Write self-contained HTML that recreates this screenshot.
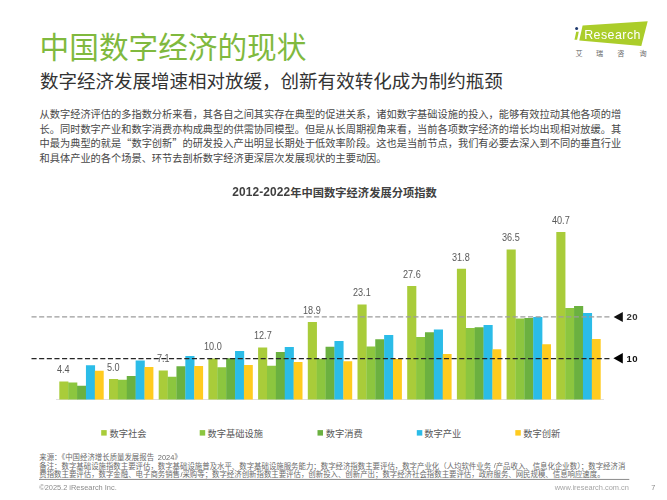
<!DOCTYPE html>
<html lang="zh-CN">
<head>
<meta charset="utf-8">
<title>中国数字经济的现状</title>
<style>
html,body{margin:0;padding:0;background:#fff}
body{width:667px;height:500px;overflow:hidden;position:relative;font-family:"Liberation Sans",sans-serif}
#slide{position:absolute;left:0;top:0;width:667px;height:500px;overflow:hidden;background:#fff}
#txt{position:absolute;left:0;top:0;width:667px;height:500px;will-change:transform}
#slide svg{position:absolute;left:0;top:0}
#slide svg text{font-family:"Liberation Sans","Noto Sans CJK SC",sans-serif}
.t{position:absolute;white-space:nowrap;line-height:1;font-family:"Liberation Sans",sans-serif}
.logo{position:absolute;white-space:nowrap;line-height:1;font-family:"Liberation Sans",sans-serif;color:#fff}
</style>
</head>
<body>
<div id="slide">
<svg width="667" height="500" viewBox="0 0 667 500">
<!-- axis -->
<rect x="56" y="399.2" width="548" height="0.8" fill="#d9d9d9"/>
<!-- bars -->
<path fill="#a9cc3a" d="M59.30 399.50h9.13v-18.00h-9.13zM109.00 399.50h9.13v-20.40h-9.13zM158.70 399.50h9.13v-29.00h-9.13zM208.40 399.50h9.13v-41.00h-9.13zM258.10 399.50h9.13v-52.00h-9.13zM307.80 399.50h9.13v-77.50h-9.13zM357.50 399.50h9.13v-95.00h-9.13zM407.20 399.50h9.13v-113.50h-9.13zM456.90 399.50h9.13v-130.70h-9.13zM506.60 399.50h9.13v-150.00h-9.13zM556.30 399.50h9.13v-167.50h-9.13z"/>
<path fill="#8cc63f" d="M68.18 399.50h9.13v-16.90h-9.13zM117.88 399.50h9.13v-19.80h-9.13zM167.58 399.50h9.13v-22.80h-9.13zM217.28 399.50h9.13v-32.20h-9.13zM266.98 399.50h9.13v-33.80h-9.13zM316.68 399.50h9.13v-40.80h-9.13zM366.38 399.50h9.13v-53.00h-9.13zM416.08 399.50h9.13v-62.40h-9.13zM465.78 399.50h9.13v-71.50h-9.13zM515.48 399.50h9.13v-81.10h-9.13zM565.18 399.50h9.13v-91.60h-9.13z"/>
<path fill="#6bb140" d="M77.06 399.50h9.13v-13.70h-9.13zM126.76 399.50h9.13v-23.60h-9.13zM176.46 399.50h9.13v-33.30h-9.13zM226.16 399.50h9.13v-41.20h-9.13zM275.86 399.50h9.13v-47.40h-9.13zM325.56 399.50h9.13v-52.80h-9.13zM375.26 399.50h9.13v-60.20h-9.13zM424.96 399.50h9.13v-67.20h-9.13zM474.66 399.50h9.13v-72.20h-9.13zM524.36 399.50h9.13v-81.60h-9.13zM574.06 399.50h9.13v-93.60h-9.13z"/>
<path fill="#2bbce8" d="M85.94 399.50h9.13v-34.20h-9.13zM135.64 399.50h9.13v-39.00h-9.13zM185.34 399.50h9.13v-43.50h-9.13zM235.04 399.50h9.13v-48.40h-9.13zM284.74 399.50h9.13v-52.40h-9.13zM334.44 399.50h9.13v-58.40h-9.13zM384.14 399.50h9.13v-64.60h-9.13zM433.84 399.50h9.13v-70.00h-9.13zM483.54 399.50h9.13v-74.40h-9.13zM533.24 399.50h9.13v-82.60h-9.13zM582.94 399.50h9.13v-86.40h-9.13z"/>
<path fill="#ffcb1f" d="M94.82 399.50h8.88v-28.80h-8.88zM144.52 399.50h8.88v-32.40h-8.88zM194.22 399.50h8.88v-33.60h-8.88zM243.92 399.50h8.88v-34.40h-8.88zM293.62 399.50h8.88v-37.40h-8.88zM343.32 399.50h8.88v-38.20h-8.88zM393.02 399.50h8.88v-40.60h-8.88zM442.72 399.50h8.88v-45.40h-8.88zM492.42 399.50h8.88v-50.20h-8.88zM542.12 399.50h8.88v-55.20h-8.88zM591.82 399.50h8.88v-60.40h-8.88z"/>
<!-- reference lines -->
<path d="M31.5 316.9H612" stroke="#9c9c9c" stroke-width="1.25" stroke-dasharray="5.1 2.538" fill="none"/>
<path d="M31.5 358.5H612" stroke="#262626" stroke-width="1.25" stroke-dasharray="5.1 2.538" fill="none"/>
<path d="M613.6 317L622.8 311.9V322.1z" fill="#111"/>
<path d="M613.4 358.3L622.8 353.1V363.5z" fill="#000"/>
<!-- legend swatches -->
<rect x="101.2" y="430.1" width="5.5" height="5.5" fill="#a9cc3a"/>
<rect x="199.7" y="430.1" width="5.5" height="5.5" fill="#8cc63f"/>
<rect x="317.5" y="430.1" width="5.5" height="5.5" fill="#6bb140"/>
<rect x="416.8" y="430.1" width="5.5" height="5.5" fill="#2bbce8"/>
<rect x="515.3" y="430.1" width="5.5" height="5.5" fill="#ffcb1f"/>
<!-- logo -->
<path d="M582.6 25.5L647.7 21.3L641.3 46L579.3 40.4z" fill="#abcd2a"/>
<path d="M576.2 31.8h2.6l-1.7 8h-2.6z" fill="#abcd2a"/>
<circle cx="576.6" cy="28.5" r="1.5" fill="#1f3a6e"/>
<!-- footer rule -->
<rect x="39" y="478.95" width="590.3" height="0.7" fill="#595959"/>
<!-- text -->
<text x="39.60" y="57.77" font-size="29.65" fill="#80b93e">中国数字经济的现状</text>
<text x="39.90" y="88.34" font-size="18.53" fill="#333333">数字经济发展增速相对放缓，创新有效转化成为制约瓶颈</text>
<text x="39.60" y="118.08" font-size="10.21" fill="#484848">从数字经济评估的多指数分析来看，其各自之间其实存在典型的促进关系，诸如数字基础设施的投入，能够有效拉动其他各项的增</text>
<text x="39.60" y="132.58" font-size="10.21" fill="#484848">长。同时数字产业和数字消费亦构成典型的供需协同模型。但是从长周期视角来看，当前各项数字经济的增长均出现相对放缓。其</text>
<text x="39.60" y="147.08" font-size="10.21" fill="#484848">中最为典型的就是<tspan font-family="'Noto Sans CJK SC',sans-serif">“</tspan>数字创新<tspan font-family="'Noto Sans CJK SC',sans-serif">”</tspan>的研发投入产出明显长期处于低效率阶段。这也是当前节点，我们有必要去深入到不同的垂直行业</text>
<text x="39.60" y="161.58" font-size="10.21" fill="#484848">和具体产业的各个场景、环节去剖析数字经济更深层次发展现状的主要动因。</text>
<text x="290.29" y="196.78" font-size="11.27" font-weight="bold" fill="#404040">年中国数字经济发展分项指数</text>
<text x="109.40" y="436.52" font-size="9.26" fill="#595959">数字社会</text>
<text x="207.60" y="436.52" font-size="9.26" fill="#595959">数字基础设施</text>
<text x="325.70" y="436.52" font-size="9.26" fill="#595959">数字消费</text>
<text x="424.30" y="436.52" font-size="9.26" fill="#595959">数字产业</text>
<text x="523.30" y="436.52" font-size="9.26" fill="#595959">数字创新</text>
<text x="39.30" y="460.02" font-size="7.41" fill="#6a6a6a">来源：《中国经济增长质量发展报告</text>
<text x="174.34" y="460.02" font-size="7.41" fill="#6a6a6a">》</text>
<text x="39.30" y="468.52" font-size="7.41" fill="#6a6a6a">备注：数字基础设施指数主要评估，数字基础设施普及水平、数字基础设施服务能力；数字经济指数主要评估，数字产业化（人均软件业务</text>
<text x="495.69" y="468.52" font-size="7.41" fill="#6a6a6a">产品收入、信息化企业数）；数字经济消</text>
<text x="39.30" y="477.02" font-size="7.41" fill="#6a6a6a">费指数主要评估，数字金融、电子商务销售</text>
<text x="182.45" y="477.02" font-size="7.41" fill="#6a6a6a">采购等；数字经济创新指数主要评估，创新投入、创新产出；数字经济社会指数主要评估，政府服务、网民规模、信息响应速度。</text>
<text x="575.45" y="55.50" font-size="7.10" fill="#666666">艾</text>
<text x="595.95" y="55.50" font-size="7.10" fill="#666666">瑞</text>
<text x="617.15" y="55.50" font-size="7.10" fill="#666666">咨</text>
<text x="639.45" y="55.50" font-size="7.10" fill="#666666">询</text>
</svg>
<div id="txt">
<span class="logo" style="left:584.2px;top:29.10px;font-size:12.4px;letter-spacing:0.46px">Research</span>
<span class="t" style="left:232.30px;top:187.21px;font-size:11.90px;color:#404040;font-weight:bold;letter-spacing:0.12px">2012-2022</span>
<span class="t" style="left:157.86px;top:453.74px;font-size:7.41px;color:#6a6a6a">2024</span>
<span class="t" style="left:493.63px;top:462.24px;font-size:7.41px;color:#6a6a6a">/</span>
<span class="t" style="left:180.39px;top:470.74px;font-size:7.41px;color:#6a6a6a">/</span>
<span class="t" style="left:57.41px;top:365.34px;font-size:10.00px;color:#595959;transform:scaleX(0.910);transform-origin:0 0">4.4</span>
<span class="t" style="left:107.11px;top:362.94px;font-size:10.00px;color:#595959;transform:scaleX(0.910);transform-origin:0 0">5.0</span>
<span class="t" style="left:156.81px;top:354.34px;font-size:10.00px;color:#595959;transform:scaleX(0.910);transform-origin:0 0">7.1</span>
<span class="t" style="left:203.98px;top:342.34px;font-size:10.00px;color:#595959;transform:scaleX(0.910);transform-origin:0 0">10.0</span>
<span class="t" style="left:253.68px;top:331.34px;font-size:10.00px;color:#595959;transform:scaleX(0.910);transform-origin:0 0">12.7</span>
<span class="t" style="left:303.38px;top:305.84px;font-size:10.00px;color:#595959;transform:scaleX(0.910);transform-origin:0 0">18.9</span>
<span class="t" style="left:353.08px;top:288.34px;font-size:10.00px;color:#595959;transform:scaleX(0.910);transform-origin:0 0">23.1</span>
<span class="t" style="left:402.78px;top:269.84px;font-size:10.00px;color:#595959;transform:scaleX(0.910);transform-origin:0 0">27.6</span>
<span class="t" style="left:452.48px;top:252.64px;font-size:10.00px;color:#595959;transform:scaleX(0.910);transform-origin:0 0">31.8</span>
<span class="t" style="left:502.18px;top:233.34px;font-size:10.00px;color:#595959;transform:scaleX(0.910);transform-origin:0 0">36.5</span>
<span class="t" style="left:551.88px;top:215.84px;font-size:10.00px;color:#595959;transform:scaleX(0.910);transform-origin:0 0">40.7</span>
<span class="t" style="left:626.60px;top:312.27px;font-size:9.60px;color:#333333;font-weight:bold;letter-spacing:0.30px">20</span>
<span class="t" style="left:626.60px;top:353.87px;font-size:9.60px;color:#111111;font-weight:bold;letter-spacing:0.30px">10</span>
<span class="t" style="left:39.20px;top:484.13px;font-size:7.41px;color:#8c8c8c">©2025.2 iResearch Inc.</span>
<span class="t" style="left:554.77px;top:484.13px;font-size:7.41px;color:#a6a6a6">www.iresearch.com.cn</span>
<span class="t" style="left:651.14px;top:484.13px;font-size:7.41px;color:#8c8c8c">7</span>
</div>
</div>
</body>
</html>
